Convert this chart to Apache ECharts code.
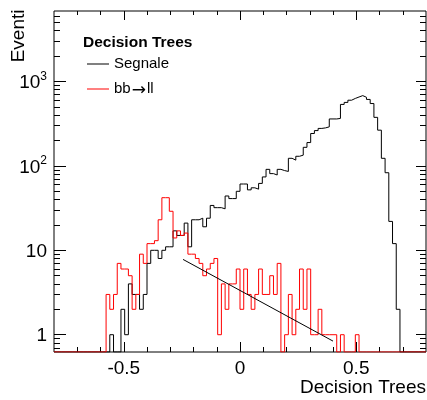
<!DOCTYPE html>
<html><head><meta charset="utf-8">
<script src="https://cdn.jsdelivr.net/npm/echarts@6/dist/echarts.min.js"></script>
<style>html,body{margin:0;padding:0;background:#fff}#c{width:427px;height:400px}</style>
</head><body><div id="c"></div>
<script>
// ---- data ----
const xMin = -0.8, xMax = 0.8, nBins = 100;
const yMin = 0.624, yMax = 6840;
// Segnale (signal) histogram, 100 bins from -0.8 to 0.8
const signal = [
  0,0,0,0,0,0,0,0,0,0,
  0,0,0,0,0,1,0,0,2,1,
  4,3,3,2,3,7,10,10,8,10,
  11,11,17,15,15,21,11,23,23,24,
  19,24,34,32,32,31,44,41,41,50,
  61,61,52,55,53,62,74,91,81,78,
  91,88,86,123,117,130,134,166,189,242,
  262,278,282,290,360,360,365,535,565,600,
  630,655,680,650,613,548,376,265,123,83,
  22,12,2,0,0,0,0,0,0,0
];
// bb -> ll (background) histogram
const background = [
  0,0,0,0,0,0,0,0,0,0,
  0,0,0,0,3,2,3,7,6,6,
  5,2,3,9,7,12,12,13,23,42,
  42,29,14,17,15,16,9,9,8,7,
  5,6,7,8,1,4,2,4,4,6,
  2,6,3,2,3,6,3,3,5,3,
  7,0,1,3,1,2,6,2,6,1,
  1,2,1,1,1,1,0,1,0,0,
  0,1,0,0,0,0,0,0,0,0,
  0,0,0,0,0,0,0,0,0,0
];
// straight (exponential) fit line
const fitX = [-0.245, 0.40];
const fitY = [7.8, 0.84];
// ticks
const xMajorTicks = [-0.5, 0, 0.5];
const xMinorTicks = [-0.7, -0.6, -0.4, -0.3, -0.2, -0.1, 0.1, 0.2, 0.3, 0.4, 0.6, 0.7];
const yMajorTicks = [1, 10, 100, 1000];
const yMinorTicks = [0.7, 0.8, 0.9, 2, 3, 4, 5, 6, 7, 8, 9, 20, 30, 40, 50, 60, 70, 80, 90,
  200, 300, 400, 500, 600, 700, 800, 900, 2000, 3000, 4000, 5000, 6000];
const seriesNames = ['Segnale', 'bb\u2192ll'];
const seriesColors = ['#000000', '#ff0000'];
const legendTitle = 'Decision Trees';
const xTitle = 'Decision Trees';
const yTitle = 'Eventi';

// ---- chart ----
const FF = '"Liberation Sans", Arial, Helvetica, sans-serif';
function histPoints(vals) {
  const w = (xMax - xMin) / nBins;
  const pts = [];
  for (let k = 0; k < nBins; k++) pts.push([xMin + k * w, vals[k] > 0 ? vals[k] : yMin]);
  pts.push([xMax, vals[nBins - 1] > 0 ? vals[nBins - 1] : yMin]);
  return pts;
}
function xAxisDef(pos, ticks, len, labels) {
  return {
    type: 'value', min: xMin, max: xMax, position: pos, gridIndex: 0,
    axisLine: { show: false, onZero: false }, splitLine: { show: false },
    axisTick: { show: true, inside: true, length: len, customValues: ticks, lineStyle: { color: '#000', width: 1 } },
    axisLabel: labels ? { show: true, customValues: ticks, fontSize: 19, fontFamily: FF, color: '#000', margin: 7,
      formatter: v => String(Math.round(v * 10) / 10) } : { show: false }
  };
}
function yAxisDef(pos, ticks, len, labels) {
  return {
    type: 'log', logBase: 10, min: yMin, max: yMax, position: pos, gridIndex: 0,
    axisLine: { show: false, onZero: false }, splitLine: { show: false },
    axisTick: { show: true, inside: true, length: len, customValues: ticks, lineStyle: { color: '#000', width: 1 } },
    axisLabel: labels ? {
      show: true, customValues: ticks, margin: 7,
      formatter: v => {
        const e = Math.round(Math.log10(v));
        if (e === 0) return '{b|1}';
        if (e === 1) return '{b|10}';
        return '{b|10}{s|' + e + '}';
      },
      rich: {
        b: { fontSize: 19, fontFamily: FF, color: '#000', lineHeight: 22, verticalAlign: 'bottom' },
        s: { fontSize: 12, fontFamily: FF, color: '#000', lineHeight: 12, verticalAlign: 'top' }
      }
    } : { show: false }
  };
}
const chart = echarts.init(document.getElementById('c'), null, { renderer: 'canvas' });
chart.setOption({
  animation: false,
  backgroundColor: '#fff',
  grid: { left: 54, top: 11, width: 372, height: 341, show: true, borderColor: '#000', borderWidth: 1, backgroundColor: 'transparent', containLabel: false },
  title: { text: legendTitle, left: 83, top: 35, padding: 0,
    textStyle: { fontSize: 15.5, fontWeight: 'bold', fontFamily: FF, color: '#000', lineHeight: 16 } },
  legend: {
    orient: 'vertical', left: 87, top: 56, padding: 0, icon: 'rect', itemWidth: 22, itemHeight: 1, itemGap: 7,
    data: seriesNames.map((n, i) => ({ name: n, itemStyle: { color: seriesColors[i] } })), selectedMode: false,
    formatter: name => name.indexOf('\u2192') >= 0 ? name.replace('\u2192', '{a|\u2192}') : name,
    textStyle: { fontSize: 15, fontFamily: FF, color: '#000', lineHeight: 16,
      rich: { a: { fontSize: 17, fontFamily: '"Noto Sans", "DejaVu Sans", sans-serif', color: '#000', lineHeight: 16, padding: [3, 1, 0, 1] } } }
  },
  xAxis: [
    xAxisDef('bottom', xMajorTicks, 10, true),
    xAxisDef('bottom', xMinorTicks, 5, false),
    xAxisDef('top', xMajorTicks, 9, false),
    xAxisDef('top', xMinorTicks, 4, false)
  ],
  yAxis: [
    yAxisDef('left', yMajorTicks, 12, true),
    yAxisDef('left', yMinorTicks, 6, false),
    yAxisDef('right', yMajorTicks, 10, false),
    yAxisDef('right', yMinorTicks, 6, false)
  ],
  series: [
    { name: seriesNames[0], type: 'line', step: 'end', data: histPoints(signal), symbol: 'none',
      xAxisIndex: 0, yAxisIndex: 0, color: seriesColors[0], lineStyle: { color: seriesColors[0], width: 1 }, z: 2 },
    { name: seriesNames[1], type: 'line', step: 'end', data: histPoints(background), symbol: 'none',
      xAxisIndex: 0, yAxisIndex: 0, color: seriesColors[1], lineStyle: { color: seriesColors[1], width: 1 }, z: 3 },
    { name: 'fit', type: 'line', data: fitX.map((x, i) => [x, fitY[i]]), symbol: 'none',
      xAxisIndex: 0, yAxisIndex: 0, color: '#000', lineStyle: { color: '#000', width: 1 }, z: 4 }
  ],
  graphic: [
    { type: 'text', x: 426, y: 388, style: { text: xTitle, fontSize: 19, fontFamily: FF, fill: '#000', align: 'right', verticalAlign: 'middle' } },
    { type: 'text', x: 18.5, y: 9.5, rotation: Math.PI / 2, style: { text: yTitle, fontSize: 19, fontFamily: FF, fill: '#000', align: 'right', verticalAlign: 'middle' } }
  ]
});
</script></body></html>
